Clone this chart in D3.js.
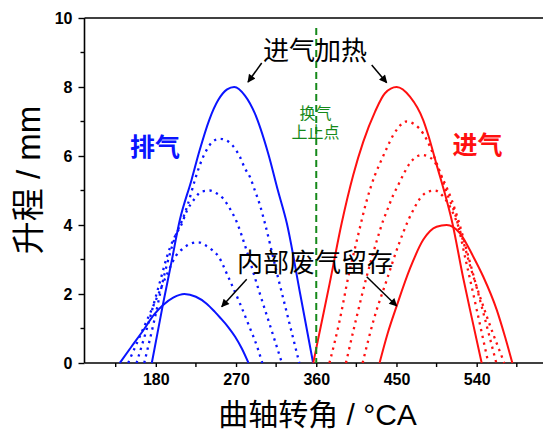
<!DOCTYPE html>
<html>
<head>
<meta charset="utf-8">
<script src="https://cdn.jsdelivr.net/npm/d3@7"></script>
<style>
  html, body { margin: 0; padding: 0; background: #fff; }
  svg { display: block; }
  .tick-label { font-family: "Liberation Sans", Arial, sans-serif; font-weight: bold; font-size: 16px; fill: #000; }
  .cjk { font-family: "Liberation Sans", Arial, "Noto Sans CJK SC", sans-serif; }
</style>
</head>
<body>
<script>
// Valve lift curves: [crank angle (°CA), lift (mm)]
const exhaustFull = [[175.5,0],[188,1.7],[197,2.85],[207,4.15],[220,5.3],[229,6.15],[240,7.05],[250,7.62],[260,7.93],[268,8.0],[280,7.75],[291,7.24],[306,6.08],[317,5.0],[327,4.05],[342,2.0],[356.5,0]];
const exhaustLift65 = [[167,0],[178,1.2],[190,2.6],[203,3.75],[209,4.1],[216.3,4.63],[223.8,5.3],[229.4,5.74],[236.9,6.17],[244,6.42],[251.9,6.5],[261.2,6.42],[268.7,6.22],[274.3,5.98],[280,5.64],[285.5,5.4],[291,5.01],[296.8,4.58],[302.4,4.05],[315,2.7],[328,1.35],[341,0]];
const exhaustLift50 = [[158.4,0],[170,1.0],[183,2.2],[196,3.35],[203,3.75],[208.9,4.02],[214.5,4.39],[223.8,4.77],[231.3,4.97],[240.6,5.0],[248.1,4.92],[255.5,4.77],[263,4.48],[270.6,4.1],[282,3.25],[294.9,2.16],[308,1.1],[321.5,0]];
const exhaustLift35 = [[149,0],[160,0.65],[172,1.35],[183,2.0],[193,2.6],[203.2,3.13],[210.7,3.32],[220,3.47],[227.5,3.5],[235,3.42],[243,3.28],[250,3.1],[261.2,2.5],[274.3,1.73],[285,1.05],[294,0.45],[299.5,0]];
const exhaustEarly = [[139.6,0],[152,0.45],[166,0.95],[178,1.4],[188.2,1.68],[200,1.9],[212,2.0],[225,1.92],[237,1.72],[246,1.49],[252,1.32],[261,1.05],[269,0.76],[276.5,0.42],[284,0]];

const intakeFull = [[356.6,0],[365,1.05],[375,2.3],[388.5,4.05],[401.5,5.45],[412.7,6.41],[425.9,7.28],[437.1,7.82],[450.2,8.0],[465.1,7.72],[480,7.04],[485.7,6.6],[495,5.75],[506.3,4.72],[512,4.14],[525,2.45],[535,1.25],[545.6,0]];
const intakeLift70 = [[374.8,0],[386,1.2],[396,2.5],[406,3.6],[416.5,4.7],[425.9,5.45],[431.5,5.79],[439,6.22],[446.4,6.61],[452,6.82],[461,7.0],[470,6.92],[480,6.65],[495,5.8],[508,4.82],[516,4.3],[528,2.95],[540,1.55],[553,0]];
const intakeLift60 = [[393.3,0],[405,1.3],[416.5,2.5],[428,3.55],[435.2,4.14],[439,4.39],[446.4,4.87],[452,5.16],[459.5,5.55],[465,5.79],[472,5.97],[479,6.03],[486,5.98],[491.3,5.88],[502.6,5.3],[512,4.72],[517.6,4.29],[530,3.15],[546,1.6],[562,0]];
const intakeLift50 = [[412,0],[425,1.3],[439,2.4],[452,3.4],[463.3,4.14],[470.8,4.53],[476.4,4.77],[485.7,4.97],[493,5.0],[502.6,4.82],[512,4.43],[521,3.85],[534,2.7],[552,1.3],[571,0]];
const intakeLate = [[431,0],[440,0.85],[450.2,1.65],[465.2,2.74],[480,3.57],[495,3.95],[506.3,4.0],[521.3,3.76],[536.2,3.08],[547.4,2.5],[562.5,1.54],[571.8,0.76],[580,0]];

// Axis ticks
const xMajorTicks = [180, 270, 360, 450, 540];
const xMinorTicks = [135, 225, 315, 405, 495, 585];
const yMajorTicks = [0, 2, 4, 6, 8, 10];
const yMinorTicks = [1, 3, 5, 7, 9];
const tdcAngle = 360;

const W = 543, H = 433;
const svg = d3.select("body").append("svg").attr("width", W).attr("height", H);

const x = d3.scaleLinear().domain([100, 620]).range([84.5, 548]);
const y = d3.scaleLinear().domain([0, 10]).range([363, 18]);

const BLUE = "#0a14ff", RED = "#ff1010", GREEN = "#15891a";

// Frame: left, bottom and top lines
const frame = svg.append("g").attr("stroke", "#000").attr("stroke-width", 1.6).attr("fill", "none");
frame.append("line").attr("x1", x(100)).attr("x2", x(100)).attr("y1", y(10)).attr("y2", y(0));
frame.append("line").attr("x1", x(100)).attr("x2", x(620)).attr("y1", y(0)).attr("y2", y(0));
frame.append("line").attr("x1", x(100)).attr("x2", x(620)).attr("y1", y(10)).attr("y2", y(10));

// X axis
const xAxis = d3.axisBottom(x).tickValues(xMajorTicks).tickSize(4).tickPadding(7).tickFormat(d3.format("d"));
const gx = svg.append("g").attr("transform", `translate(0,${y(0)})`).call(xAxis);
gx.select(".domain").remove();
gx.selectAll(".tick line").attr("stroke", "#000").attr("stroke-width", 1.4);
gx.selectAll(".tick text").attr("class", "tick-label").attr("font-family", null).attr("font-size", null).attr("dy", "0.71em");
svg.append("g").selectAll("line").data(xMinorTicks).join("line")
  .attr("x1", d => x(d)).attr("x2", d => x(d)).attr("y1", y(0)).attr("y2", y(0) + 4)
  .attr("stroke", "#000").attr("stroke-width", 1.4);

// Y axis
const yAxis = d3.axisLeft(y).tickValues(yMajorTicks).tickSize(6).tickPadding(6).tickFormat(d3.format("d"));
const gy = svg.append("g").attr("transform", `translate(${x(100)},0)`).call(yAxis);
gy.select(".domain").remove();
gy.selectAll(".tick line").attr("stroke", "#000").attr("stroke-width", 1.4);
gy.selectAll(".tick text").attr("class", "tick-label").attr("font-family", null).attr("font-size", null);
svg.append("g").selectAll("line").data(yMinorTicks).join("line")
  .attr("x1", x(100) - 4).attr("x2", x(100)).attr("y1", d => y(d)).attr("y2", d => y(d))
  .attr("stroke", "#000").attr("stroke-width", 1.4);

// Lift curves
const line = d3.line().x(d => x(d[0])).y(d => y(d[1])).curve(d3.curveMonotoneX);
const curves = [
  { data: exhaustLift65, color: BLUE, dotted: true },
  { data: exhaustLift50, color: BLUE, dotted: true },
  { data: exhaustLift35, color: BLUE, dotted: true },
  { data: intakeLift70, color: RED, dotted: true },
  { data: intakeLift60, color: RED, dotted: true },
  { data: intakeLift50, color: RED, dotted: true },
  { data: exhaustFull, color: BLUE, dotted: false },
  { data: exhaustEarly, color: BLUE, dotted: false },
  { data: intakeFull, color: RED, dotted: false },
  { data: intakeLate, color: RED, dotted: false }
];
svg.append("g").selectAll("path").data(curves).join("path")
  .attr("d", d => line(d.data))
  .attr("fill", "none")
  .attr("stroke", d => d.color)
  .attr("stroke-width", d => d.dotted ? 2.3 : 2)
  .attr("stroke-dasharray", d => d.dotted ? "2.3 4.6" : null);

// TDC marker line
svg.append("line")
  .attr("x1", x(tdcAngle)).attr("x2", x(tdcAngle)).attr("y1", 28).attr("y2", y(0))
  .attr("stroke", GREEN).attr("stroke-width", 2).attr("stroke-dasharray", "7 4");

// Annotations
const defs = svg.append("defs");
defs.append("marker").attr("id", "arrowhead")
  .attr("viewBox", "0 0 10 10").attr("refX", 9).attr("refY", 5)
  .attr("markerWidth", 10).attr("markerHeight", 8).attr("markerUnits", "userSpaceOnUse")
  .attr("orient", "auto")
  .append("path").attr("d", "M0,0 L10,5 L0,10 Z").attr("fill", "#000");

const arrows = [
  [261.7, 63, 248, 82],
  [371.7, 65, 386.7, 82.7],
  [246.7, 279.3, 221.7, 306.7],
  [366.7, 276.7, 396.7, 306]
];
svg.append("g").selectAll("line").data(arrows).join("line")
  .attr("x1", d => d[0]).attr("y1", d => d[1]).attr("x2", d => d[2]).attr("y2", d => d[3])
  .attr("stroke", "#000").attr("stroke-width", 1.5).attr("marker-end", "url(#arrowhead)");

const labels = [
  { text: "进气加热", x: 315, y: 60, size: 26, color: "#000", weight: "normal" },
  { text: "内部废气留存", x: 315, y: 272, size: 26, color: "#000", weight: "normal" },
  { text: "排气", x: 155, y: 156, size: 25, color: BLUE, weight: "bold" },
  { text: "进气", x: 477.5, y: 154, size: 25, color: RED, weight: "bold" },
  { text: "换气", x: 315.5, y: 119, size: 16, color: GREEN, weight: "normal" },
  { text: "上止点", x: 315.5, y: 137.5, size: 16, color: GREEN, weight: "normal" }
];
svg.append("g").selectAll("text").data(labels).join("text")
  .attr("class", "cjk")
  .attr("x", d => d.x).attr("y", d => d.y)
  .attr("text-anchor", "middle")
  .attr("font-size", d => d.size)
  .attr("font-weight", d => d.weight)
  .attr("fill", d => d.color)
  .text(d => d.text);

// Axis titles
svg.append("text").attr("class", "cjk")
  .attr("x", 317.5).attr("y", 425).attr("text-anchor", "middle")
  .attr("font-size", 30).attr("fill", "#000")
  .text("曲轴转角 / °CA");
svg.append("text").attr("class", "cjk")
  .attr("transform", "translate(40,180) rotate(-90)")
  .attr("text-anchor", "middle")
  .attr("font-size", 33).attr("fill", "#000")
  .text("升程 / mm");
</script>
</body>
</html>
